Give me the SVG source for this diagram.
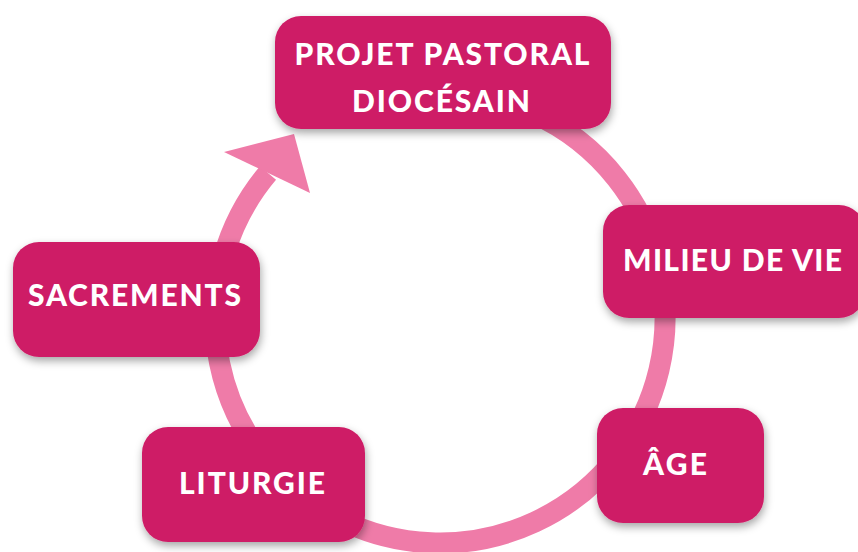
<svg xmlns="http://www.w3.org/2000/svg" width="858" height="552" viewBox="0 0 858 552">
<defs>
<filter id="sh" x="-20%" y="-20%" width="140%" height="150%">
<feDropShadow dx="1" dy="4" stdDeviation="4" flood-color="#000" flood-opacity="0.35"/>
</filter>
<style>
.box{fill:#CE1E66;filter:url(#sh)}
.lbl{fill:#FFFFFF;font-family:Lato,"Open Sans","DejaVu Sans",sans-serif;font-weight:900;font-size:30px;text-anchor:middle}
.ring{fill:none;stroke:#EF7BA8;stroke-width:21}
</style>
</defs>
<rect width="858" height="552" fill="#FFFFFF"/>
<g id="connectors">
<path class="ring" d="M 440 93 A 225 225 0 1 1 268 173"/>
<polygon points="224,152 294,134 310,193" fill="#EF7BA8"/>
</g>
<g id="node-projet">
<rect class="box" x="275" y="16" width="336" height="113" rx="26"/>
<text class="lbl" x="442" y="65" textLength="295">PROJET PASTORAL</text>
<text class="lbl" x="441" y="112" textLength="178">DIOCÉSAIN</text>
</g>
<g id="node-milieu">
<rect class="box" x="603" y="205" width="262" height="113" rx="26"/>
<text class="lbl" x="732.5" y="271" textLength="219">MILIEU DE VIE</text>
</g>
<g id="node-age">
<rect class="box" x="597" y="408" width="167" height="115" rx="26"/>
<text class="lbl" x="675" y="475" textLength="64">ÂGE</text>
</g>
<g id="node-liturgie">
<rect class="box" x="142" y="427" width="223" height="115" rx="26"/>
<text class="lbl" x="252" y="494" textLength="146">LITURGIE</text>
</g>
<g id="node-sacrements">
<rect class="box" x="13" y="242" width="247" height="115" rx="26"/>
<text class="lbl" x="134.5" y="306" textLength="213">SACREMENTS</text>
</g>
</svg>
